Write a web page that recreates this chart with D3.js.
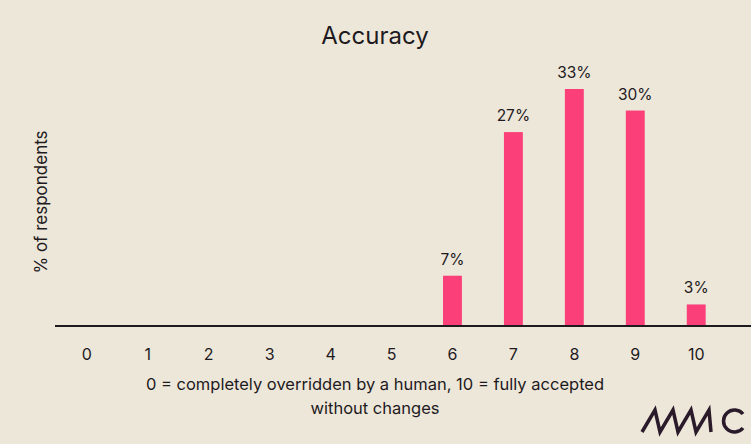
<!DOCTYPE html>
<html><head><meta charset="utf-8">
<script src="https://cdn.jsdelivr.net/npm/d3@7"></script>
<style>body{margin:0;background:#ede7d9}text{font-family:Inter,"DejaVu Sans",sans-serif;fill:#1e1a1e}</style>
</head><body><div id="chart"></div>
<script>
// Data
const categories = ["0","1","2","3","4","5","6","7","8","9","10"];
const values = [0,0,0,0,0,0,7,27,33,30,3];

const width = 751, height = 444;
const svg = d3.select("#chart").append("svg").attr("width", width).attr("height", height);
svg.append("rect").attr("width", width).attr("height", height).attr("fill", "#ede7d9");

const x = d3.scaleBand().domain(categories).range([56, 727]).paddingInner(0.69).paddingOuter(0.35);
const y = d3.scaleLinear().domain([0, 33]).range([326, 89]);

svg.append("text").attr("x", 375).attr("y", 44).attr("text-anchor", "middle")
  .attr("font-size", 24).text("Accuracy");

svg.append("g").selectAll("rect").data(values).join("rect")
  .attr("x", (d, i) => x(categories[i])).attr("width", x.bandwidth())
  .attr("y", d => y(d)).attr("height", d => 326 - y(d)).attr("fill", "#fb3f78");

svg.append("g").selectAll("text").data(values.map((v, i) => ({v, c: categories[i]})).filter(d => d.v > 0))
  .join("text")
  .attr("x", d => x(d.c) + x.bandwidth() / 2)
  .attr("y", d => y(d.v) - 11).attr("text-anchor", "middle").attr("font-size", 15.5)
  .text(d => d.v + "%");

// baseline
svg.append("line").attr("x1", 55).attr("x2", 751).attr("y1", 326).attr("y2", 326)
  .attr("stroke", "#1e1a1e").attr("stroke-width", 2);

// category labels
svg.append("g").selectAll("text").data(categories).join("text")
  .attr("x", d => x(d) + x.bandwidth() / 2).attr("y", 360).attr("text-anchor", "middle")
  .attr("font-size", 16).text(d => d);

svg.append("text").attr("x", 375).attr("y", 390).attr("text-anchor", "middle").attr("font-size", 16.5)
  .text("0 = completely overridden by a human, 10 = fully accepted");
svg.append("text").attr("x", 375).attr("y", 414).attr("text-anchor", "middle").attr("font-size", 16.5)
  .text("without changes");

svg.append("text").attr("transform", "translate(47,202) rotate(-90)").attr("text-anchor", "middle")
  .attr("font-size", 17).text("% of respondents");

// logo
const logo = svg.append("g").attr("fill", "none").attr("stroke", "#2a1a2a").attr("stroke-width", 3.5);
logo.append("path").attr("d", "M642,432 L655,410 L660,432 L673,410 L678,432 L691,410 L696,432 L709,410 L711,432");
logo.append("path").attr("d", "M743,414 A11,11 0 1 0 743,428");
</script></body></html>
